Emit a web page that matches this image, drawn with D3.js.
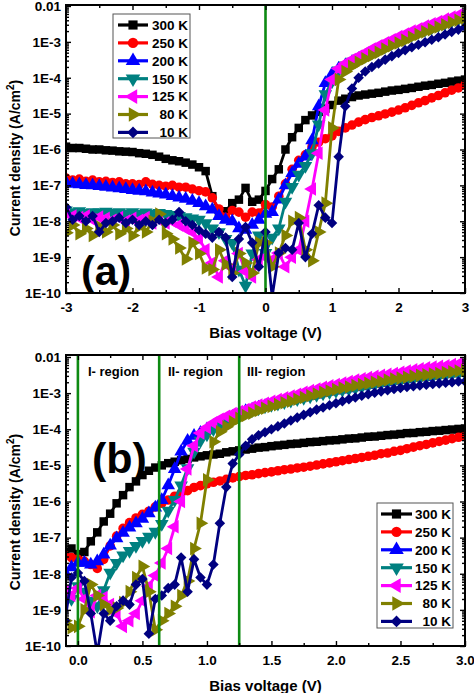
<!DOCTYPE html>
<html><head><meta charset="utf-8">
<script src="https://cdn.jsdelivr.net/npm/d3@7"></script>
<style>
body{margin:0;background:#fff}
svg{display:block}
text{font-family:"Liberation Sans",Arial,sans-serif;font-weight:bold}
</style>
</head><body>
<svg id="c" width="474" height="693"></svg>
<script>
// ---------------- data ----------------
const tempLabels = ["300 K","250 K","200 K","150 K","125 K","80 K","10 K"];
const colors = ["#000000","#ff0000","#0000ff","#008080","#ff00ff","#808000","#000080"];

const yTickVals = [1e-10,1e-9,1e-8,1e-7,1e-6,1e-5,1e-4,1e-3,1e-2];
const yTickLabels = ["1E-10","1E-9","1E-8","1E-7","1E-6","1E-5","1E-4","1E-3","0.01"];

const xTicksA = [-3,-2,-1,0,1,2,3];
const xTickLabelsA = ["-3","-2","-1","0","1","2","3"];
const xMinorA = [-2.5,-1.5,-0.5,0.5,1.5,2.5];
const xTicksB = [0,0.5,1,1.5,2,2.5,3];
const xTickLabelsB = ["0.0","0.5","1.0","1.5","2.0","2.5","3.0"];
const xMinorB = [0.25,0.75,1.25,1.75,2.25,2.75];

const regionLinesA = [0];
const regionLinesB = [0, 0.63, 1.25];
const regionLabels = ["I- region","II- region","III- region"];

// panel (a) bias voltages (V)
const voltsA = [-3,-2.9,-2.8,-2.7,-2.6,-2.5,-2.4,-2.3,-2.2,-2.1,-2,-1.9,-1.8,-1.7,-1.6,-1.5,-1.4,-1.3,-1.2,-1.1,-1,-0.9,-0.8,-0.7,-0.6,-0.5,-0.4,-0.3,-0.2,-0.1,0,0.1,0.2,0.3,0.4,0.5,0.6,0.7,0.8,0.9,1,1.1,1.2,1.3,1.4,1.5,1.6,1.7,1.8,1.9,2,2.1,2.2,2.3,2.4,2.5,2.6,2.7,2.8,2.9,3];

// panel (a) current densities (A/cm^2)
const j300a = [1.2e-6,1.1e-6,1.1e-6,1.05e-6,1.0e-6,1.0e-6,9.5e-7,9.3e-7,8.9e-7,8.7e-7,8.5e-7,
  7.9e-7,7.6e-7,7.1e-7,6.3e-7,5.5e-7,5.0e-7,4.7e-7,4.3e-7,3.8e-7,3.2e-7,
  2.5e-7,5.0e-8,1.8e-8,1.9e-8,3.2e-8,4.0e-8,8.5e-8,3.5e-8,4.0e-8,7.0e-8,
  1.5e-7,2.8e-7,1.0e-6,2.2e-6,4.0e-6,6.6e-6,8.9e-6,1.12e-5,1.38e-5,1.74e-5,
  2.3e-5,2.6e-5,2.9e-5,3.2e-5,3.4e-5,3.6e-5,3.8e-5,4.1e-5,4.4e-5,4.6e-5,
  4.9e-5,5.2e-5,5.6e-5,6.0e-5,6.3e-5,6.8e-5,7.2e-5,7.8e-5,8.3e-5,8.9e-5];
const j250a = [1.6e-7,1.4e-7,1.5e-7,1.3e-7,1.4e-7,1.26e-7,1.3e-7,1.2e-7,1.26e-7,1.1e-7,1.1e-7,
  1.05e-7,1.26e-7,1.07e-7,1.0e-7,9.5e-8,1.0e-7,8.9e-8,8.9e-8,7.9e-8,7.1e-8,
  6.6e-8,4.5e-8,2.2e-8,1.3e-8,2.0e-8,1.8e-8,1.3e-8,1.8e-8,1.7e-8,2.9e-8,
  2.5e-8,5.0e-8,1.1e-7,2.8e-7,5.0e-7,7.1e-7,1.2e-6,1.6e-6,2.0e-6,2.4e-6,
  3.2e-6,4.0e-6,4.8e-6,5.8e-6,6.8e-6,7.8e-6,8.7e-6,9.8e-6,1.1e-5,1.26e-5,
  1.45e-5,1.7e-5,2.0e-5,2.3e-5,2.75e-5,3.2e-5,3.8e-5,4.5e-5,5.2e-5,6.3e-5];
const j200a = [1.2e-7,1.1e-7,1.07e-7,1.02e-7,1.0e-7,9.5e-8,9.1e-8,8.7e-8,8.3e-8,7.9e-8,7.4e-8,
  7.1e-8,6.8e-8,6.3e-8,5.9e-8,5.5e-8,5.0e-8,4.6e-8,4.2e-8,3.7e-8,3.2e-8,
  2.6e-8,2.1e-8,1.4e-8,1.1e-8,1.0e-8,6.3e-9,5.8e-9,7.9e-9,1.1e-8,1.6e-8,
  1.8e-8,4.0e-8,1.0e-7,2.2e-7,4.0e-7,6.3e-7,1.8e-6,1.6e-5,7.1e-5,1.26e-4,
  1.8e-4,2.2e-4,2.75e-4,3.3e-4,4.0e-4,4.9e-4,6.0e-4,7.4e-4,9.1e-4,1.1e-3,
  1.3e-3,1.55e-3,1.8e-3,2.1e-3,2.5e-3,2.9e-3,3.3e-3,3.8e-3,4.3e-3,4.8e-3];
const j150a = [2.0e-8,1.8e-8,1.9e-8,1.7e-8,1.8e-8,1.75e-8,1.85e-8,1.7e-8,1.8e-8,1.65e-8,1.8e-8,
  1.6e-8,1.75e-8,1.6e-8,1.7e-8,1.6e-8,1.5e-8,1.4e-8,1.3e-8,1.2e-8,1.1e-8,
  8.9e-9,6.3e-9,5.0e-9,3.2e-9,2.5e-9,4.5e-10,1.6e-10,1.26e-9,4.0e-9,1.3e-9,
  3.5e-9,6.3e-9,3.5e-8,9.1e-8,2.0e-7,3.5e-7,7.9e-7,5.0e-6,3.5e-5,7.9e-5,
  1.6e-4,2.2e-4,2.8e-4,3.4e-4,4.1e-4,5.0e-4,6.2e-4,7.6e-4,9.3e-4,1.1e-3,
  1.35e-3,1.6e-3,1.9e-3,2.2e-3,2.5e-3,2.9e-3,3.3e-3,3.8e-3,4.3e-3,4.8e-3];
const j125a = [1.7e-8,1.4e-8,1.26e-8,1.4e-8,1.1e-8,1.3e-8,1.2e-8,1.07e-8,1.26e-8,1.0e-8,1.2e-8,
  1.05e-8,1.26e-8,8.9e-9,1.1e-8,8.9e-9,1.0e-8,7.9e-9,6.3e-9,5.0e-9,3.2e-9,
  1.6e-9,6.9e-10,2.8e-10,7.9e-10,5.0e-10,1.26e-9,4.0e-10,2.8e-10,8.5e-10,1.0e-9,
  8.5e-10,1.3e-9,5.4e-10,1.0e-9,1.6e-9,1.0e-8,7.9e-8,7.9e-7,1.26e-5,8.9e-5,
  1.8e-4,2.5e-4,3.2e-4,4.0e-4,5.0e-4,6.3e-4,7.8e-4,9.5e-4,1.15e-3,1.4e-3,
  1.65e-3,2.0e-3,2.3e-3,2.75e-3,3.2e-3,3.7e-3,4.3e-3,4.9e-3,5.6e-3,6.3e-3];
const j80a = [4.8e-9,7.9e-9,4.5e-9,6.3e-9,4.0e-9,7.1e-9,5.0e-9,7.9e-9,4.5e-9,6.3e-9,4.0e-9,
  7.1e-9,5.0e-9,1.0e-8,1.6e-8,4.5e-9,3.2e-9,1.8e-9,8.9e-10,2.5e-9,1.26e-9,
  5.0e-10,4.5e-10,1.6e-9,6.3e-10,3.6e-10,1.26e-9,6.9e-10,3.6e-10,2.5e-9,2.5e-9,
  5.4e-10,1.3e-9,4.0e-9,1.0e-8,1.26e-8,1.6e-9,7.9e-10,5.0e-9,3.2e-8,4.0e-6,
  8.9e-5,1.5e-4,2.1e-4,2.7e-4,3.4e-4,4.2e-4,5.1e-4,6.3e-4,7.8e-4,9.3e-4,
  1.1e-3,1.35e-3,1.6e-3,1.9e-3,2.2e-3,2.6e-3,3.0e-3,3.5e-3,4.0e-3,4.6e-3];
const j10a = [2.5e-8,1.1e-8,1.4e-8,1.0e-8,1.4e-8,5.0e-9,8.9e-9,1.0e-8,1.26e-8,8.9e-9,1.1e-8,
  7.9e-9,1.0e-8,7.9e-9,1.1e-8,8.9e-9,1.1e-8,1.8e-8,1.0e-8,7.9e-9,5.6e-9,
  4.5e-9,3.5e-9,5.0e-9,3.5e-9,2.8e-10,3.2e-9,6.9e-9,2.5e-9,5.4e-10,5.0e-9,
  8.0e-11,1.3e-9,1.8e-9,1.6e-9,8.9e-9,1.0e-9,4.5e-9,2.8e-8,1.26e-8,8.9e-9,
  6.3e-7,1.6e-5,5.0e-5,1.0e-4,1.5e-4,2.0e-4,2.5e-4,3.2e-4,4.0e-4,4.9e-4,
  5.9e-4,7.1e-4,8.3e-4,9.8e-4,1.15e-3,1.35e-3,1.6e-3,1.9e-3,2.2e-3,2.6e-3];

// panel (b) bias voltages (V)
const voltsB = [-0.1,-0.05,0,0.05,0.1,0.15,0.2,0.25,0.3,0.35,0.4,0.45,0.5,0.55,0.6,0.65,0.7,0.75,0.8,0.85,0.9,0.95,1,1.05,1.1,1.15,1.2,1.25,1.3,1.35,1.4,1.45,1.5,1.55,1.6,1.65,1.7,1.75,1.8,1.85,1.9,1.95,2,2.05,2.1,2.15,2.2,2.25,2.3,2.35,2.4,2.45,2.5,2.55,2.6,2.65,2.7,2.75,2.8,2.85,2.9,2.95,3];

// panel (b) current densities (A/cm^2)
const j300b = [4.0e-8,5.0e-8,
  3.5e-8,4.0e-8,7.9e-8,1.4e-7,2.8e-7,4.6e-7,8.9e-7,1.5e-6,2.5e-6,3.6e-6,
  5.4e-6,7.1e-6,8.7e-6,1.0e-5,1.15e-5,1.26e-5,1.38e-5,1.5e-5,1.66e-5,1.78e-5,
  1.9e-5,2.0e-5,2.1e-5,2.3e-5,2.45e-5,2.6e-5,2.75e-5,2.9e-5,3.1e-5,3.2e-5,
  3.4e-5,3.55e-5,3.7e-5,3.9e-5,4.0e-5,4.2e-5,4.4e-5,4.5e-5,4.7e-5,4.9e-5,
  5.0e-5,5.25e-5,5.5e-5,5.6e-5,5.9e-5,6.2e-5,6.3e-5,6.6e-5,6.9e-5,7.1e-5,
  7.4e-5,7.8e-5,7.9e-5,8.3e-5,8.5e-5,8.9e-5,9.1e-5,9.5e-5,9.8e-5,1.02e-4,
  1.05e-4];
const j250b = [3.2e-8,2.8e-8,
  2.5e-8,2.2e-8,1.8e-8,1.4e-8,2.5e-8,5.9e-8,1.1e-7,1.8e-7,2.6e-7,3.5e-7,
  4.4e-7,5.4e-7,7.1e-7,8.9e-7,1.1e-6,1.4e-6,1.7e-6,2.0e-6,2.45e-6,2.75e-6,
  3.1e-6,3.4e-6,3.7e-6,4.1e-6,4.5e-6,4.9e-6,5.25e-6,5.5e-6,5.9e-6,6.3e-6,
  6.6e-6,7.1e-6,7.6e-6,7.9e-6,8.5e-6,8.9e-6,9.5e-6,1.02e-5,1.1e-5,1.17e-5,
  1.26e-5,1.35e-5,1.45e-5,1.55e-5,1.66e-5,1.78e-5,1.9e-5,2.1e-5,2.2e-5,2.45e-5,
  2.6e-5,2.9e-5,3.2e-5,3.5e-5,3.8e-5,4.2e-5,4.6e-5,5.0e-5,5.5e-5,6.0e-5,
  6.6e-5];
const j200b = [1.07e-8,1.5e-8,
  2.0e-8,2.0e-8,1.8e-8,2.2e-8,3.4e-8,6.0e-8,9.5e-8,1.35e-7,1.9e-7,2.5e-7,
  3.3e-7,4.7e-7,6.8e-7,1.1e-6,2.8e-6,7.9e-6,2.4e-5,4.8e-5,6.6e-5,7.9e-5,
  1.0e-4,1.17e-4,1.45e-4,1.8e-4,2.2e-4,2.8e-4,3.2e-4,3.5e-4,4.0e-4,4.4e-4,
  4.8e-4,5.25e-4,5.75e-4,6.3e-4,6.9e-4,7.6e-4,8.3e-4,9.1e-4,1.0e-3,1.1e-3,
  1.17e-3,1.26e-3,1.35e-3,1.45e-3,1.55e-3,1.66e-3,1.78e-3,1.9e-3,2.0e-3,2.2e-3,
  2.3e-3,2.4e-3,2.6e-3,2.7e-3,2.8e-3,3.0e-3,3.2e-3,3.3e-3,3.5e-3,3.6e-3,
  3.8e-3];
const j150b = [3.2e-9,2.0e-9,
  4.5e-9,3.2e-9,1.8e-9,1.26e-9,3.5e-9,1.07e-8,2.0e-8,3.2e-8,4.3e-8,5.9e-8,
  8.1e-8,1.07e-7,1.45e-7,2.4e-7,5.6e-7,1.1e-6,2.8e-6,8.3e-6,2.4e-5,4.8e-5,
  7.2e-5,1.0e-4,1.3e-4,1.66e-4,2.1e-4,2.5e-4,2.95e-4,3.4e-4,3.8e-4,4.3e-4,
  4.7e-4,5.1e-4,5.6e-4,6.2e-4,6.8e-4,7.4e-4,8.1e-4,8.9e-4,9.8e-4,1.07e-3,
  1.15e-3,1.23e-3,1.3e-3,1.4e-3,1.5e-3,1.6e-3,1.74e-3,1.86e-3,2.0e-3,2.1e-3,
  2.2e-3,2.35e-3,2.5e-3,2.6e-3,2.75e-3,2.95e-3,3.1e-3,3.2e-3,3.4e-3,3.5e-3,
  3.7e-3];
const j125b = [3.2e-9,2.5e-9,
  4.0e-9,2.0e-9,8.9e-10,2.5e-9,2.2e-9,1.4e-9,7.9e-10,3.5e-10,5.0e-10,7.9e-10,
  1.8e-9,4.5e-9,8.9e-9,2.0e-8,5.0e-8,2.0e-7,1.0e-6,7.9e-6,3.5e-5,7.9e-5,
  1.12e-4,1.5e-4,1.9e-4,2.3e-4,2.7e-4,3.1e-4,3.5e-4,4.1e-4,4.7e-4,5.25e-4,
  5.9e-4,6.6e-4,7.4e-4,8.3e-4,9.3e-4,1.05e-3,1.17e-3,1.3e-3,1.45e-3,1.6e-3,
  1.74e-3,1.9e-3,2.1e-3,2.3e-3,2.5e-3,2.7e-3,2.9e-3,3.1e-3,3.3e-3,3.5e-3,
  3.8e-3,4.1e-3,4.4e-3,4.7e-3,5.0e-3,5.25e-3,5.5e-3,5.75e-3,6.2e-3,6.5e-3,
  6.8e-3];
const j80b = [5.0e-10,3.2e-10,
  3.5e-10,1.0e-9,5.0e-9,2.5e-9,1.4e-9,1.0e-9,1.12e-9,1.6e-9,3.2e-9,7.9e-9,
  1.6e-8,3.2e-9,2.8e-10,5.0e-10,7.9e-10,1.26e-9,2.5e-9,6.3e-9,5.0e-8,2.5e-7,
  4.0e-6,4.5e-5,8.5e-5,1.17e-4,1.6e-4,2.0e-4,2.4e-4,2.8e-4,3.3e-4,3.8e-4,
  4.3e-4,4.8e-4,5.4e-4,6.0e-4,6.8e-4,7.6e-4,8.5e-4,9.5e-4,1.05e-3,1.15e-3,
  1.26e-3,1.38e-3,1.48e-3,1.62e-3,1.74e-3,1.86e-3,2.0e-3,2.1e-3,2.3e-3,2.45e-3,
  2.6e-3,2.75e-3,2.95e-3,3.1e-3,3.2e-3,3.4e-3,3.5e-3,3.7e-3,3.9e-3,4.1e-3,
  4.3e-3];
const j10b = [5.0e-10,7.9e-9,
  1.05e-8,6.3e-9,7.9e-10,6.3e-11,7.9e-10,5.0e-10,1.26e-9,1.8e-9,1.4e-9,5.0e-9,
  7.1e-9,2.2e-10,2.0e-9,2.5e-9,4.0e-9,5.0e-9,2.8e-8,3.2e-9,2.5e-8,7.9e-9,
  5.0e-9,1.8e-8,2.5e-7,2.5e-6,1.12e-5,2.0e-5,3.5e-5,5.25e-5,6.8e-5,8.3e-5,
  1.0e-4,1.2e-4,1.45e-4,1.74e-4,2.1e-4,2.5e-4,2.95e-4,3.5e-4,4.0e-4,4.6e-4,
  5.25e-4,6.0e-4,6.8e-4,7.6e-4,8.5e-4,9.3e-4,1.02e-3,1.12e-3,1.2e-3,1.3e-3,
  1.38e-3,1.48e-3,1.55e-3,1.62e-3,1.7e-3,1.78e-3,1.86e-3,1.95e-3,2.0e-3,2.1e-3,
  2.1e-3];

// ---------------- drawing ----------------
const svg = d3.select("#c");
const markerDefs = [
  {type: d3.symbolSquare,   size: 72, rot: 0},
  {type: d3.symbolCircle,   size: 72, rot: 0},
  {type: d3.symbolTriangle, size: 80, rot: 0},
  {type: d3.symbolTriangle, size: 80, rot: 180},
  {type: d3.symbolTriangle, size: 80, rot: -90},
  {type: d3.symbolTriangle, size: 80, rot: 90},
  {type: d3.symbolSquare,   size: 56, rot: 45}
];
const GREEN = "#0d8a12";
const FONT = "'Liberation Sans', Arial, sans-serif";

function styleAxis(sel, size){
  sel.attr("font-family", FONT).attr("font-size", size).attr("font-weight","bold");
  sel.selectAll(".domain").remove();
  sel.selectAll(".tick line").attr("stroke","#000").attr("stroke-width",1.4);
  sel.selectAll(".tick text").attr("fill","#000");
}

function drawPanel(p){
  const x = d3.scaleLinear().domain(p.xDomain).range([p.xr0, p.xr1]);
  const y = d3.scaleLog().domain([1e-10, 1e-2]).range([p.bottom, p.y01]);
  const g = svg.append("g");

  const clipId = "clip" + p.id;
  svg.append("defs").append("clipPath").attr("id", clipId)
    .append("rect").attr("x", p.left).attr("y", p.top)
    .attr("width", p.right - p.left).attr("height", p.bottom - p.top);

  const dg = g.append("g").attr("clip-path", `url(#${clipId})`);
  p.series.forEach((vals, i) => {
    const pts = p.volts.map((v, k) => [v, vals[k]]);
    dg.append("path")
      .attr("d", d3.line().x(d => x(d[0])).y(d => y(d[1]))(pts))
      .attr("fill","none").attr("stroke", colors[i]).attr("stroke-width", 2.8)
      .attr("stroke-linejoin","round");
    const m = markerDefs[i];
    const sym = d3.symbol().type(m.type).size(m.size)();
    dg.append("g").selectAll("path").data(pts).join("path")
      .attr("transform", d => `translate(${x(d[0])},${y(d[1])}) rotate(${m.rot})`)
      .attr("d", sym).attr("fill", colors[i]);
  });

  // green region lines
  p.greens.forEach(v => {
    g.append("line").attr("x1", x(v)).attr("x2", x(v))
      .attr("y1", p.top).attr("y2", p.bottom)
      .attr("stroke", GREEN).attr("stroke-width", 2.6);
  });

  // minor y ticks
  const yMinor = [];
  for (let e = -10; e < -2; e++) for (let m = 2; m <= 9; m++) yMinor.push(m * Math.pow(10, e));

  // axes
  const axB = g.append("g").attr("transform", `translate(0,${p.bottom})`)
    .call(d3.axisBottom(x).tickValues(p.xTicks).tickFormat((d, i) => p.xTickLabels[i]).tickSize(-5).tickPadding(9));
  styleAxis(axB, 13.5);
  const axBm = g.append("g").attr("transform", `translate(0,${p.bottom})`)
    .call(d3.axisBottom(x).tickValues(p.xMinor).tickFormat("").tickSize(-3));
  styleAxis(axBm, 10);
  const axT = g.append("g").attr("transform", `translate(0,${p.top})`)
    .call(d3.axisTop(x).tickValues(p.xTicks).tickFormat("").tickSize(-5));
  styleAxis(axT, 10);
  const axTm = g.append("g").attr("transform", `translate(0,${p.top})`)
    .call(d3.axisTop(x).tickValues(p.xMinor).tickFormat("").tickSize(-3));
  styleAxis(axTm, 10);

  const axL = g.append("g").attr("transform", `translate(${p.left},0)`)
    .call(d3.axisLeft(y).tickValues(yTickVals).tickFormat((d, i) => yTickLabels[i]).tickSize(-5).tickPadding(5));
  styleAxis(axL, 13.5);
  const axLm = g.append("g").attr("transform", `translate(${p.left},0)`)
    .call(d3.axisLeft(y).tickValues(yMinor).tickFormat("").tickSize(-3));
  styleAxis(axLm, 10);
  const axR = g.append("g").attr("transform", `translate(${p.right},0)`)
    .call(d3.axisRight(y).tickValues(yTickVals).tickFormat("").tickSize(-5));
  styleAxis(axR, 10);
  const axRm = g.append("g").attr("transform", `translate(${p.right},0)`)
    .call(d3.axisRight(y).tickValues(yMinor).tickFormat("").tickSize(-3));
  styleAxis(axRm, 10);

  // frame
  g.append("rect").attr("x", p.left).attr("y", p.top)
    .attr("width", p.right - p.left).attr("height", p.bottom - p.top)
    .attr("fill","none").attr("stroke","#000").attr("stroke-width", 2);

  // axis titles
  g.append("text").attr("x", (p.left + p.right) / 2).attr("y", p.xTitleY)
    .attr("text-anchor","middle").attr("font-size", 15).text("Bias voltage (V)");
  const yt = g.append("text")
    .attr("transform", `translate(20,${p.yTitleC}) rotate(-90)`)
    .attr("text-anchor","middle").attr("font-size", 14);
  yt.append("tspan").text("Current density (A/cm");
  yt.append("tspan").attr("font-size", 10).attr("dy", -6).text("2");
  yt.append("tspan").attr("dy", 6).text(")");

  // panel letter
  g.append("text").attr("x", p.letter.x).attr("y", p.letter.y)
    .attr("font-size", p.letter.size).text(p.letter.t);

  // legend
  const L = p.leg;
  const lg = g.append("g");
  lg.append("rect").attr("x", L.x).attr("y", L.y).attr("width", L.w).attr("height", L.h)
    .attr("fill","#fff").attr("stroke","#555").attr("stroke-width", 1);
  tempLabels.forEach((t, i) => {
    const yy = L.y0 + i * L.dy;
    lg.append("line").attr("x1", L.lx1).attr("x2", L.lx2).attr("y1", yy).attr("y2", yy)
      .attr("stroke", colors[i]).attr("stroke-width", 3.2);
    const m = markerDefs[i];
    lg.append("path").attr("transform", `translate(${(L.lx1 + L.lx2) / 2},${yy}) rotate(${m.rot})`)
      .attr("d", d3.symbol().type(m.type).size(m.size + 12)()).attr("fill", colors[i]);
    lg.append("text").attr("x", L.tx).attr("y", yy).attr("dy", "0.36em")
      .attr("text-anchor","end").attr("font-size", 13.5).text(t);
  });
  return {x, y, g};
}

drawPanel({
  id: "a", xDomain: [-3, 3], xr0: 66, xr1: 465,
  left: 66, right: 465, top: 5, bottom: 293, y01: 6,
  volts: voltsA, series: [j300a, j250a, j200a, j150a, j125a, j80a, j10a],
  xTicks: xTicksA, xTickLabels: xTickLabelsA, xMinor: xMinorA,
  greens: regionLinesA, xTitleY: 338, yTitleC: 158,
  letter: {t: "(a)", x: 81, y: 285, size: 41},
  leg: {x: 113, y: 14, w: 77, h: 124, y0: 25, dy: 17.9, lx1: 118, lx2: 148, tx: 188}
});

const pb = drawPanel({
  id: "b", xDomain: [-0.1, 3], xr0: 65, xr1: 465,
  left: 66, right: 465, top: 355, bottom: 646, y01: 357,
  volts: voltsB, series: [j300b, j250b, j200b, j150b, j125b, j80b, j10b],
  xTicks: xTicksB, xTickLabels: xTickLabelsB, xMinor: xMinorB,
  greens: regionLinesB, xTitleY: 691, yTitleC: 512,
  letter: {t: "(b)", x: 92, y: 473, size: 43},
  leg: {x: 377, y: 503, w: 76, h: 125, y0: 514, dy: 17.9, lx1: 381, lx2: 412, tx: 451}
});

// region labels in panel (b)
const regionX = [88, 168, 247];
regionLabels.forEach((t, i) => {
  pb.g.append("text").attr("x", regionX[i]).attr("y", 376)
    .attr("font-size", 13).text(t);
});
</script>
</body></html>
